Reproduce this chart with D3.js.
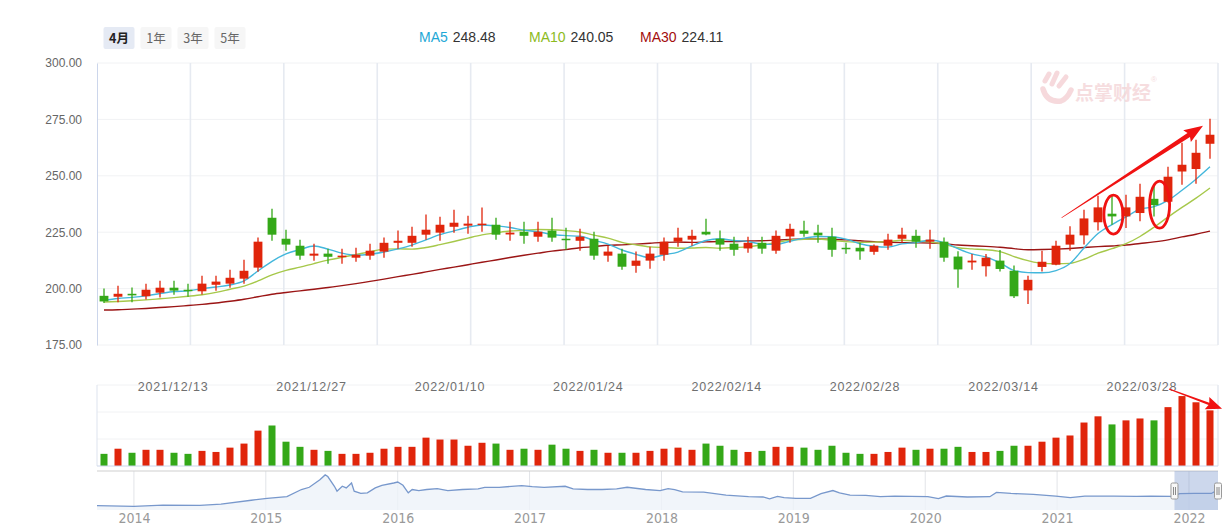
<!DOCTYPE html>
<html><head><meta charset="utf-8">
<script src="https://cdn.jsdelivr.net/npm/d3@7/dist/d3.min.js"></script>
<style>
html,body{margin:0;padding:0;background:#fff;}
svg{display:block;font-family:"Liberation Sans",Arial,sans-serif;}
</style></head><body>
<svg id="chart" width="1230" height="527"></svg>
<script>
// ---------------- DATA ----------------
const opens = [196.8,196.4,197.7,196.6,198.2,200.4,199.5,198.8,201.7,202.2,
204.4,209.3,231.4,222.1,219.0,214.6,215.5,214.0,213.7,214.6,
216.4,220.3,220.3,223.9,224.8,227.4,227.9,228.2,228.3,224.0,
225.2,223.0,225.7,222.1,221.2,222.1,214.6,215.5,210.1,212.4,
215.0,220.8,221.7,225.2,222.1,219.9,217.8,220.3,216.8,223.1,
225.7,224.8,223.0,218.1,218.1,216.3,219.0,222.1,223.4,220.8,
220.8,214.2,211.6,209.9,212.4,207.9,199.2,209.6,210.6,219.5,
223.6,229.4,233.2,232.0,233.5,239.8,238.5,251.9,253.0,264.2];
const highs = [200.0,201.3,200.5,202.2,203.5,203.5,202.2,205.7,205.7,208.4,
212.8,222.6,235.4,226.1,221.7,219.9,217.7,217.7,218.1,219.9,
222.6,225.7,227.4,232.8,231.9,235.0,232.3,235.9,231.4,229.6,
229.6,229.6,231.4,227.0,226.5,225.2,219.0,217.7,216.4,218.6,
222.6,227.0,226.1,231.0,225.7,223.0,223.0,223.0,225.7,228.8,
230.1,228.3,227.0,220.3,220.3,219.5,224.3,227.0,226.1,226.1,
222.6,216.6,215.3,215.3,217.1,210.2,205.7,216.8,221.2,227.6,
235.0,241.2,241.2,241.6,246.5,245.6,254.0,264.7,266.0,275.3];
const lows = [193.6,193.9,193.9,195.2,196.0,197.3,196.4,197.4,199.1,200.4,
202.2,207.5,221.2,216.8,212.8,212.4,211.0,211.0,211.9,212.8,
213.7,217.7,218.6,221.7,221.2,224.8,224.3,225.2,221.7,221.2,
219.9,220.8,220.8,217.2,216.8,212.8,211.9,208.4,207.0,208.8,
212.4,218.6,219.0,223.7,216.8,214.6,215.9,215.5,215.5,220.3,
223.0,220.3,214.1,215.5,212.8,215.0,217.2,220.3,218.1,217.7,
211.9,200.4,208.4,205.4,207.6,195.8,193.2,207.6,210.3,216.8,
219.5,225.7,228.3,226.9,229.8,232.0,238.2,246.0,246.5,257.6];
const closes = [194.3,197.7,197.0,199.5,200.4,199.1,198.9,202.2,203.1,204.8,
207.9,220.8,223.9,219.5,214.6,215.5,214.1,214.6,215.0,216.8,
220.3,221.2,223.4,226.1,228.3,229.2,228.8,228.8,223.9,224.8,
223.4,225.2,222.6,221.7,223.0,214.6,216.4,209.7,212.4,215.5,
220.8,222.6,223.4,224.0,219.5,217.2,220.3,217.7,223.4,226.5,
224.3,223.6,217.2,217.8,216.5,219.0,221.7,223.9,220.8,221.7,
213.7,208.5,212.4,213.7,208.7,196.6,203.9,211.9,219.0,223.9,
231.1,236.0,232.0,236.0,240.7,237.0,249.6,254.9,260.2,268.2];
const volumes = [45,64,49,60,60,49,45,56,52,68,
83,131,150,90,71,60,56,45,45,49,
64,71,71,105,98,98,75,86,83,60,
64,60,79,64,56,60,49,49,49,56,
64,68,60,83,75,60,52,56,71,71,
68,60,75,49,45,45,52,68,60,64,
64,71,52,52,56,75,75,90,105,113,
161,184,154,169,176,169,218,259,236,206];
const ma5 = [194.8,195.6,196.1,196.8,197.8,198.7,199.0,200.0,200.7,201.6,
203.4,207.8,212.1,215.4,217.3,218.9,217.5,215.7,214.8,215.2,
216.2,217.6,219.3,221.6,223.9,225.6,227.2,228.2,227.8,227.1,
225.9,225.2,224.0,223.5,223.2,221.4,219.7,217.1,215.2,213.7,
215.0,216.2,218.9,221.3,222.1,221.3,220.9,219.7,219.6,221.0,
222.4,223.1,223.0,221.9,219.9,218.8,218.4,219.8,220.4,221.4,
220.4,217.7,215.4,214.0,211.4,208.0,207.1,207.0,208.0,211.1,
218.0,224.4,228.4,231.8,235.2,236.3,239.1,243.6,248.5,254.0];
const ma10 = [194.0,194.3,194.6,195.0,195.5,196.0,196.6,197.3,198.3,199.7,
201.1,203.4,206.1,208.1,209.5,211.1,212.6,213.9,215.1,216.3,
217.5,217.6,217.5,218.2,219.5,220.9,222.4,223.8,224.7,225.5,
225.8,226.2,226.1,225.7,225.1,223.7,222.4,220.5,219.4,218.5,
218.2,217.9,218.0,218.2,217.9,218.2,218.5,219.3,220.4,221.5,
221.9,222.0,221.4,220.8,220.5,220.6,220.8,221.4,221.1,220.7,
219.6,218.1,217.6,217.2,216.4,214.2,212.4,211.2,211.0,211.2,
213.0,215.7,217.7,219.9,223.1,227.2,231.7,236.0,240.1,244.6];
const ma30 = [190.5,190.6,190.9,191.2,191.6,192.0,192.5,193.0,193.6,194.4,
195.3,196.4,197.5,198.3,199.0,199.7,200.5,201.3,202.2,203.2,
204.2,205.3,206.3,207.4,208.5,209.5,210.6,211.7,212.7,213.8,
214.8,215.7,216.6,217.3,218.1,218.6,219.2,219.4,219.7,220.1,
220.5,220.6,220.5,220.7,220.9,220.9,221.1,221.2,221.5,221.8,
222.0,222.0,221.8,221.6,221.2,220.8,220.6,220.4,220.3,220.2,
219.9,219.3,219.0,218.7,218.3,217.7,217.2,217.3,217.5,217.8,
218.2,218.6,218.9,219.3,220.0,220.7,221.6,222.9,224.1,225.5];
const priceTicks = [175,200,225,250,275,300];
const volumeTicks = [0,100,200,300];
const dateLabelIndex = [5,15,25,35,45,55,65,75];
const dateLabels = ["2021/12/13","2021/12/27","2022/01/10","2022/01/24","2022/02/14","2022/02/28","2022/03/14","2022/03/28"];
const rangeButtons = ["4月","1年","3年","5年"];
const legendNames = ["MA5","MA10","MA30"];
const legendValues = ["248.48","240.05","224.11"];
const navYears = [2013.72,2014.00,2014.22,2014.50,2014.66,2014.89,2015.01,2015.16,2015.27,2015.33,
2015.41,2015.45,2015.47,2015.52,2015.54,2015.58,2015.61,2015.65,2015.67,2015.72,
2015.77,2015.83,2015.88,2015.97,2016.00,2016.04,2016.08,2016.11,2016.16,2016.22,
2016.30,2016.38,2016.49,2016.61,2016.66,2016.77,2016.94,2017.02,2017.11,2017.27,
2017.33,2017.44,2017.55,2017.66,2017.74,2017.88,2017.99,2018.05,2018.10,2018.16,
2018.32,2018.49,2018.66,2018.77,2018.82,2018.88,2018.93,2019.02,2019.13,2019.21,
2019.30,2019.35,2019.43,2019.55,2019.66,2019.77,2020.02,2020.10,2020.16,2020.32,
2020.49,2020.54,2020.65,2020.82,2020.99,2021.10,2021.21,2021.43,2021.60,2021.71,
2021.87,2021.93,2022.04,2022.17,2022.22];
const navValues = [65,53,72,67,86,144,172,196,302,335,
445,517,493,350,278,350,326,398,278,244,
254,326,364,398,412,364,254,302,287,302,
316,287,302,311,335,335,359,345,335,350,
311,302,302,311,335,302,287,316,302,268,
263,220,196,192,163,201,182,172,172,240,
287,254,220,216,196,206,196,168,206,192,
196,259,244,230,206,182,206,206,201,205,
200,240,246,244,300];
const navYearTicks = [2014,2015,2016,2017,2018,2019,2020,2021,2022];
const navSelection = [2021.89, 2022.22];

// ---------------- LAYOUT ----------------
const plotL = 97, plotR = 1218;
const candleTop = 63, candleBot = 345;
const volTop = 385, volBot = 466;
const navTop = 471, navBot = 510;
const UP = "#e0250b", DOWN = "#34a818";
const n = closes.length;

const svg = d3.select("#chart");

const xc = d3.scalePoint().domain(d3.range(n)).range([plotL, plotR - 1]).padding(0.5);
const xi = d3.scaleLinear().domain([0, n - 1]).range([xc(0), xc(n - 1)]);
const y = d3.scaleLinear().domain([175, 300]).range([candleBot, candleTop]);
const yv = d3.scaleLinear().domain([0, 300]).range([volBot, volTop]);
const xl = d3.scaleBand().domain(d3.range(n + 1)).range([plotL, plotR]);
const gx = d3.scaleLinear().domain([0, 12]).range([plotL, plotR]);
const xn = d3.scaleLinear().domain([navYears[0], navYears[navYears.length - 1]]).range([plotL, plotR]);
const yn = d3.scaleLinear().domain([0, 575]).range([navBot, navTop]);

// ---------------- TOP CONTROLS ----------------
const btnX = d3.scalePoint().domain(rangeButtons).range([103.5, 214.5]);
const btn = svg.append("g").selectAll("g").data(rangeButtons).join("g")
  .attr("transform", d => `translate(${btnX(d)},27)`);
btn.append("rect").attr("width", 31).attr("height", 22).attr("rx", 2)
  .attr("fill", (d, i) => i === 0 ? "#e5eaf4" : "#f6f6f6");
btn.append("text").attr("x", 15.5).attr("y", 15.5).attr("text-anchor", "middle")
  .style("font-family", "'Noto Sans CJK SC', sans-serif")
  .attr("font-size", 12.5).attr("font-weight", (d, i) => i === 0 ? "bold" : "normal")
  .attr("fill", (d, i) => i === 0 ? "#222" : "#666").text(d => d);

const legendColors = ["#1ea8d6", "#8dbb1e", "#a30d0d"];
const legendNameX = [419, 529, 640];
const lg = svg.append("g").attr("font-size", 14);
const lgi = lg.selectAll("g").data(legendNames).join("g");
const names = lgi.append("text").attr("x", (d, i) => legendNameX[i]).attr("y", 42)
  .attr("fill", (d, i) => legendColors[i]).text(d => d);
lgi.append("text")
  .attr("x", function (d, i) { return legendNameX[i] + names.nodes()[i].getComputedTextLength() + 5; })
  .attr("y", 42).attr("fill", "#333").text((d, i) => legendValues[i]);

// ---------------- CANDLE PANEL GRID ----------------
const grid = svg.append("g");
grid.selectAll("line.h").data(priceTicks).join("line").attr("class", "h")
  .attr("x1", plotL).attr("x2", plotR).attr("y1", d => y(d)).attr("y2", d => y(d))
  .attr("stroke", "#f1f2f4").attr("stroke-width", 1);
grid.selectAll("line.v").data(d3.range(1, 13)).join("line").attr("class", "v")
  .attr("x1", d => gx(d)).attr("x2", d => gx(d)).attr("y1", candleTop).attr("y2", candleBot)
  .attr("stroke", "#e6eaf1").attr("stroke-width", 1.6);

const yAxis = svg.append("g").attr("transform", `translate(${plotL},0)`)
  .call(d3.axisLeft(y).tickValues(priceTicks).tickFormat(d3.format(".2f")).tickSize(0).tickPadding(15).tickSizeOuter(0));
yAxis.select(".domain").attr("stroke", "#ccd6eb");
yAxis.selectAll("text").attr("fill", "#666").attr("font-size", 12).style("font-family", "'Liberation Sans', Arial, sans-serif");

// ---------------- WATERMARK ----------------
const wm = svg.append("g").attr("opacity", 0.75);
const wmC = "#f3cdd1";
[[1045,81,1049,74],[1052,84,1057,73],[1059,86,1066,77]].forEach(s => {
  wm.append("line").attr("x1", s[0]).attr("y1", s[1]).attr("x2", s[2]).attr("y2", s[3])
    .attr("stroke", wmC).attr("stroke-width", 5).attr("stroke-linecap", "round");
});
wm.append("path").attr("d", "M1043,89 Q1047,103 1061,101 Q1067,99 1071,90")
  .attr("fill", "none").attr("stroke", wmC).attr("stroke-width", 5.5).attr("stroke-linecap", "round");
wm.append("text").attr("x", 1075).attr("y", 100).attr("font-size", 19).attr("font-weight", "bold")
  .style("font-family", "'Noto Sans CJK SC', sans-serif").attr("fill", "#f3d2d5").text("点掌财经");
wm.append("text").attr("x", 1151).attr("y", 82).attr("font-size", 8).attr("fill", "#f3d2d5").text("®");

// ---------------- MA LINES ----------------
const line = arr => d3.line().x((d, i) => xc(i)).y(d => y(d)).curve(d3.curveMonotoneX)(arr);
const maColors = ["#43b7dc", "#a6c84a", "#9b1515"];
[ma30, ma10, ma5].forEach((arr, k) => {
  svg.append("path").attr("d", line(arr)).attr("fill", "none")
    .attr("stroke", maColors[2 - k]).attr("stroke-width", 1.4);
});

// ---------------- CANDLES ----------------
const bw = xc.step() * 0.63;
const candle = svg.append("g").selectAll("g").data(d3.range(n)).join("g");
const col = i => closes[i] >= opens[i] ? UP : DOWN;
candle.append("line").attr("x1", i => xc(i)).attr("x2", i => xc(i))
  .attr("y1", i => y(highs[i])).attr("y2", i => y(lows[i]))
  .attr("stroke", col).attr("stroke-width", 1.3);
candle.append("rect").attr("x", i => xc(i) - bw / 2).attr("width", bw)
  .attr("y", i => y(Math.max(opens[i], closes[i])))
  .attr("height", i => Math.max(1.5, Math.abs(y(opens[i]) - y(closes[i]))))
  .attr("fill", col);

// ---------------- VOLUME PANEL ----------------
const vg = svg.append("g");
vg.selectAll("line.h").data(volumeTicks.slice(1)).join("line").attr("class", "h")
  .attr("x1", plotL).attr("x2", plotR).attr("y1", d => yv(d)).attr("y2", d => yv(d))
  .attr("stroke", "#f1f2f4");
vg.append("line").attr("x1", plotL).attr("x2", plotL).attr("y1", volTop).attr("y2", volBot).attr("stroke", "#dde3ee");
vg.append("line").attr("x1", plotR).attr("x2", plotR).attr("y1", volTop).attr("y2", volBot).attr("stroke", "#e6eaf1").attr("stroke-width", 1.6);
const vbw = xc.step() * 0.5;
vg.selectAll("rect").data(d3.range(n)).join("rect")
  .attr("x", i => xc(i) - vbw / 2).attr("width", vbw)
  .attr("y", i => yv(volumes[i])).attr("height", i => yv(0) - yv(volumes[i]))
  .attr("fill", col);
vg.append("line").attr("x1", plotL).attr("x2", plotR).attr("y1", volBot).attr("y2", volBot).attr("stroke", "#ccd6eb");
vg.selectAll("text").data(dateLabels).join("text")
  .attr("x", (d, i) => xl(dateLabelIndex[i]) + xl.bandwidth() / 2).attr("y", 391)
  .attr("text-anchor", "middle").attr("font-size", 12.5).attr("letter-spacing", 0.8)
  .attr("fill", "#6f6f6f").text(d => d);

// ---------------- NAVIGATOR ----------------
const ng = svg.append("g");
ng.selectAll("line.yr").data(navYearTicks).join("line").attr("class", "yr")
  .attr("x1", d => xn(d)).attr("x2", d => xn(d)).attr("y1", navTop).attr("y2", navBot)
  .attr("stroke", "#e2e4e8");
const navPts = navYears.map((t, i) => [t, navValues[i]]);
ng.append("path").attr("d", d3.area().x(d => xn(d[0])).y0(navBot).y1(d => yn(d[1]))(navPts))
  .attr("fill", "#eef2f9").attr("opacity", 0.8);
ng.append("path").attr("d", d3.line().x(d => xn(d[0])).y(d => yn(d[1]))(navPts))
  .attr("fill", "none").attr("stroke", "#7898cc").attr("stroke-width", 1.3);
ng.append("line").attr("x1", plotL).attr("x2", plotR).attr("y1", navTop).attr("y2", navTop)
  .attr("stroke", "#cfcfcf").attr("stroke-width", 1.2);
ng.append("rect").attr("x", xn(navSelection[0])).attr("y", navTop)
  .attr("width", xn(navSelection[1]) - xn(navSelection[0])).attr("height", navBot - navTop)
  .attr("fill", "rgba(120,150,205,0.38)");
navSelection.forEach(s => {
  const hx = xn(s);
  ng.append("rect").attr("x", hx - 3.5).attr("y", 483).attr("width", 7).attr("height", 16).attr("rx", 1.5)
    .attr("fill", "#f7f7f7").attr("stroke", "#9a9a9a");
  [-1, 1].forEach(o => ng.append("line").attr("x1", hx + o).attr("x2", hx + o).attr("y1", 487).attr("y2", 495).attr("stroke", "#888"));
});
const navAxis = ng.append("g").attr("transform", `translate(0,${navBot})`)
  .call(d3.axisBottom(xn).tickValues(navYearTicks).tickFormat(d3.format("d")).tickSize(0).tickPadding(3));
navAxis.select(".domain").remove();
navAxis.selectAll("text").attr("fill", "#999").attr("font-size", 14)
  .style("font-family", "'Liberation Sans Narrow','DejaVu Sans Condensed',sans-serif");

// ---------------- ANNOTATIONS ----------------
function arrow(x1, y1, x2, y2, w0, w1, hl, hw) {
  const dx = x2 - x1, dy = y2 - y1, L = Math.hypot(dx, dy);
  const ux = dx / L, uy = dy / L, nx = -uy, ny = ux;
  const bx = x2 - ux * hl, by = y2 - uy * hl;
  const p = [
    [x1 + nx * w0 / 2, y1 + ny * w0 / 2], [bx + nx * w1 / 2, by + ny * w1 / 2],
    [bx + nx * hw / 2 - ux * 2, by + ny * hw / 2 - uy * 2], [x2, y2],
    [bx - nx * hw / 2 - ux * 2, by - ny * hw / 2 - uy * 2], [bx - nx * w1 / 2, by - ny * w1 / 2],
    [x1 - nx * w0 / 2, y1 - ny * w0 / 2]];
  return "M" + p.map(q => q.join(",")).join("L") + "Z";
}
const ANN = "#f01212";
svg.append("path").attr("d", arrow(xi(68.4), y(231.4), xi(78.5), y(272.2), 0.6, 4.5, 17, 14)).attr("fill", ANN);
svg.append("ellipse").attr("cx", xi(72.1)).attr("cy", y(232.8)).attr("rx", 9.5).attr("ry", 19.5)
  .attr("fill", "none").attr("stroke", ANN).attr("stroke-width", 2.8);
svg.append("ellipse").attr("cx", xi(75.4)).attr("cy", y(237.2)).attr("rx", 10).attr("ry", 23.5)
  .attr("fill", "none").attr("stroke", ANN).attr("stroke-width", 2.8);
svg.append("path").attr("d", arrow(xi(76.07), yv(285), xi(79.86), yv(212), 1.2, 2.2, 14, 13)).attr("fill", ANN);
</script>
</body></html>
